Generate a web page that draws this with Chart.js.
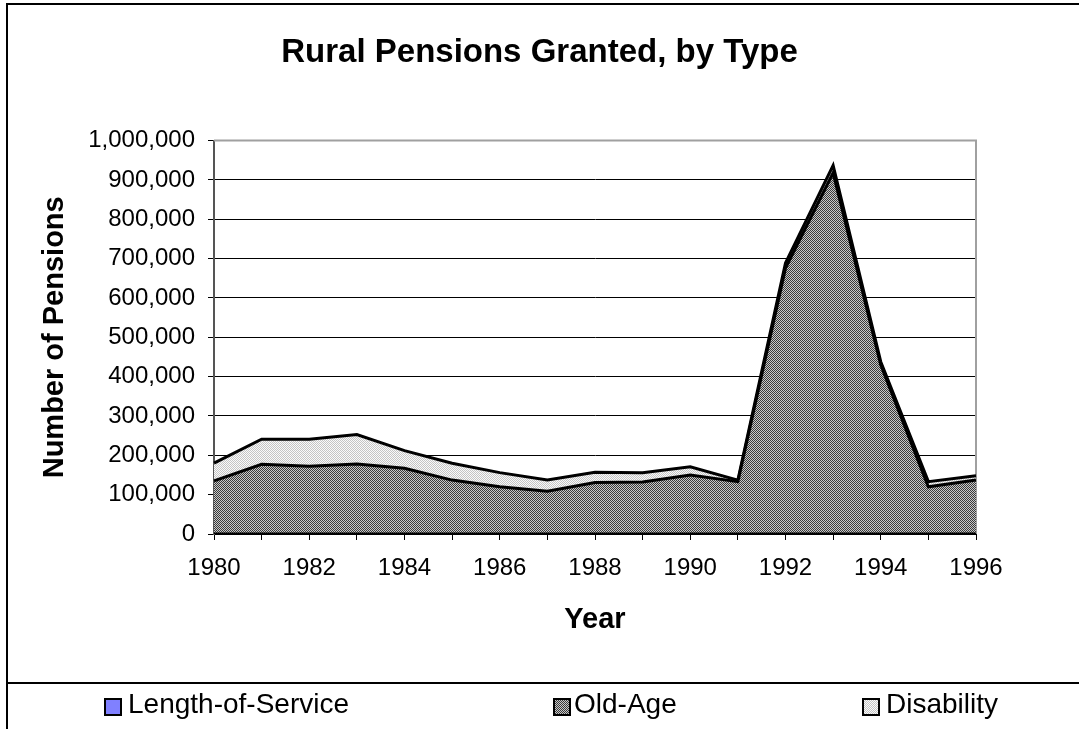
<!DOCTYPE html>
<html lang="en">
<head>
    <meta charset="UTF-8">
    <title>Rural Pensions Granted, by Type</title>
    <script src="https://cdn.jsdelivr.net/npm/chart.js"></script>
    <style>
        body { margin: 0; background: #fff; font-family: "Liberation Sans", Arial, sans-serif; }
        #wrap { position: relative; width: 1079px; height: 729px; overflow: hidden; }
        #frame { position: absolute; left: 6px; top: 3px; width: 1100px; height: 800px; border-left: 2px solid #000; border-top: 2px solid #000; }
        #sep { position: absolute; left: 6px; top: 682px; width: 1100px; border-top: 2px solid #000; }
        canvas { position: absolute; left: 0; top: 0; }
        .item { position: absolute; top: 688px; font-size: 28px; line-height: 32px; color: #000; white-space: nowrap; }
        .box { position: absolute; top: 698px; width: 14px; height: 14px; border: 2px solid #000; }
    </style>
</head>
<body>
<div id="wrap">
    <div id="frame"></div>
    <div id="sep"></div>
    <canvas id="chart" width="1079" height="729"></canvas>

    <!-- Legend -->
    <div class="box" style="left:104px; background:#8080ff;"></div>
    <div class="item" style="left:128px;">Length-of-Service</div>
    <div class="box" style="left:553px; background:repeating-conic-gradient(#3a3a3a 0 25%, #c8c8c8 0 50%) 0 0/2px 2px;"></div>
    <div class="item" style="left:574px;">Old-Age</div>
    <div class="box" style="left:862px; background:repeating-conic-gradient(#c4c4c4 0 25%, #fafafa 0 50%) 0 0/2px 2px;"></div>
    <div class="item" style="left:886px;">Disability</div>
</div>

<script>
    // Data
    const years = ['1980', '1981', '1982', '1983', '1984', '1985', '1986', '1987', '1988',
                   '1989', '1990', '1991', '1992', '1993', '1994', '1995', '1996'];
    const lengthOfService = [1000, 1000, 1000, 1000, 1000, 1000, 1000, 1000, 1000,
                             1000, 1000, 1000, 1000, 1000, 1000, 1000, 1000];
    const oldAge = [134000, 176000, 171000, 177000, 166000, 136000, 119000, 108000, 130000,
                    131000, 149000, 132000, 675000, 917000, 429000, 119000, 136000];
    const disability = [45000, 64000, 69000, 75000, 45000, 43000, 36000, 28000, 26000,
                        24000, 21000, 4000, 13000, 19000, 8000, 13000, 11000];
    const yTicks = [0, 100000, 200000, 300000, 400000, 500000, 600000, 700000, 800000, 900000, 1000000];

    const FONT = '"Liberation Sans", Arial, sans-serif';

    // small checker patterns like the old spreadsheet fills
    function checker(dark, light) {
        const c = document.createElement('canvas');
        c.width = 2; c.height = 2;
        const g = c.getContext('2d');
        g.fillStyle = light; g.fillRect(0, 0, 2, 2);
        g.fillStyle = dark; g.fillRect(0, 0, 1, 1); g.fillRect(1, 1, 1, 1);
        return g.createPattern(c, 'repeat');
    }

    const ctx = document.getElementById('chart').getContext('2d');
    const oldAgeFill = checker('#3a3a3a', '#c8c8c8');
    const disabilityFill = checker('#c4c4c4', '#fafafa');

    // gray top/right border of the plot area
    const plotFrame = {
        id: 'plotFrame',
        beforeDatasetsDraw(chart) {
            const a = chart.chartArea, c = chart.ctx;
            c.save();
            c.strokeStyle = '#a0a0a0';
            c.lineWidth = 2;
            c.beginPath();
            c.moveTo(a.left, a.top);
            c.lineTo(a.right, a.top);
            c.lineTo(a.right, a.bottom);
            c.stroke();
            c.restore();
        }
    };

    new Chart(ctx, {
        type: 'line',
        data: {
            labels: years,
            datasets: [{
                label: 'Length-of-Service',
                data: lengthOfService,
                backgroundColor: '#8080ff',
                borderColor: '#000',
                borderWidth: 2,
                fill: 'origin'
            }, {
                label: 'Old-Age',
                data: oldAge,
                backgroundColor: oldAgeFill,
                borderColor: '#000',
                borderWidth: 3,
                fill: '-1'
            }, {
                label: 'Disability',
                data: disability,
                backgroundColor: disabilityFill,
                borderColor: '#000',
                borderWidth: 3,
                fill: '-1'
            }]
        },
        options: {
            responsive: false,
            animation: false,
            layout: { padding: { left: 0, right: 0, top: 0, bottom: 85 } },
            elements: {
                point: { radius: 0, hoverRadius: 0 },
                line: { tension: 0, borderJoinStyle: 'miter' }
            },
            scales: {
                x: {
                    offset: false,
                    grid: { drawOnChartArea: false, drawTicks: true, tickLength: 6, color: '#000', lineWidth: 1 },
                    border: { color: '#000', width: 2 },
                    ticks: {
                        autoSkip: false,
                        maxRotation: 0,
                        padding: 14,
                        color: '#000',
                        font: { family: FONT, size: 24 },
                        callback: function(value, index) {
                            return index % 2 === 0 ? years[index] : '';
                        }
                    },
                    title: {
                        display: true,
                        text: 'Year',
                        color: '#000',
                        font: { family: FONT, size: 29, weight: 'bold' },
                        padding: { top: 0, bottom: 7 }
                    },
                    afterFit: function(scale) { scale.height = 110; }
                },
                y: {
                    stacked: true,
                    min: 0,
                    max: 1000000,
                    afterBuildTicks: function(scale) {
                        scale.ticks = yTicks.map(v => ({ value: v }));
                    },
                    grid: { color: '#000', lineWidth: 1, tickLength: 6 },
                    border: { color: '#555', width: 2 },
                    ticks: {
                        padding: 13,
                        color: '#000',
                        font: { family: FONT, size: 24 },
                        callback: function(value) { return value.toLocaleString('en-US'); }
                    },
                    title: {
                        display: true,
                        text: 'Number of Pensions',
                        color: '#000',
                        font: { family: FONT, size: 29, weight: 'bold' },
                        padding: { top: 38, bottom: 0 }
                    },
                    afterFit: function(scale) { scale.width = 214; }
                },
                // empty spacer on the right so the plot ends where the reference does
                spacer: {
                    type: 'linear',
                    position: 'right',
                    display: true,
                    grid: { display: false, drawTicks: false },
                    border: { display: false },
                    ticks: { display: false },
                    afterFit: function(scale) { scale.width = 103; }
                }
            },
            plugins: {
                legend: { display: false },
                tooltip: { enabled: false },
                title: {
                    display: true,
                    text: 'Rural Pensions Granted, by Type',
                    color: '#000',
                    font: { family: FONT, size: 33, weight: 'bold' },
                    padding: { top: 33, bottom: 68 }
                }
            }
        },
        plugins: [plotFrame]
    });
</script>
</body>
</html>
